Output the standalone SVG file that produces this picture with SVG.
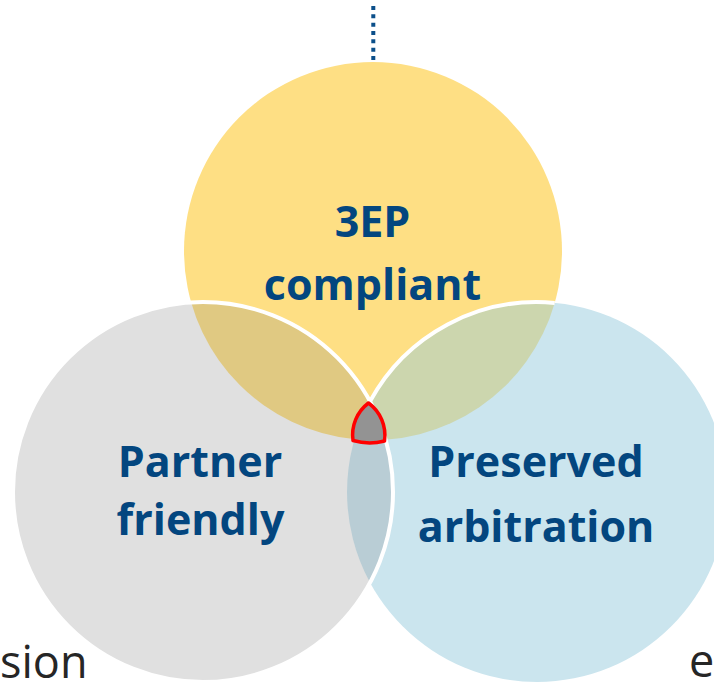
<svg xmlns="http://www.w3.org/2000/svg" width="714" height="685" viewBox="0 0 714 685">
<style>
.lbl{font-family:"Open Sans","Liberation Sans",sans-serif;font-weight:700;font-size:43px;fill:#03467F;text-anchor:middle}
.side{font-family:"Open Sans","Liberation Sans",sans-serif;font-size:45px;fill:#262626}
.edge{fill:none;stroke:#FFFFFF;stroke-width:4}
</style>
<rect width="714" height="685" fill="#FFFFFF"/>
<g id="connectors">
<line x1="373.3" y1="6" x2="373.3" y2="62" stroke="#0B4F8A" stroke-width="4" stroke-dasharray="4 4.33"/>
</g>
<g id="yellow">
<circle cx="373" cy="251" r="189" fill="#FEDF84"/>
</g>
<g id="blue">
<circle cx="537" cy="492" r="190" fill="#CBE5EE"/>
</g>
<g id="gray">
<circle cx="203" cy="492" r="190" fill="#E0E0E0"/>
</g>
<g id="overlaps">
<path d="M191.2,302.4 A190 190 0 0 1 385.6,439.6 A189 189 0 0 1 191.2,302.4 Z" fill="#E0C982"/>
<path d="M554.7,302.9 A190 190 0 0 0 354.5,439.1 A189 189 0 0 0 554.7,302.9 Z" fill="#CCD6AE"/>
<path d="M370,401.4 A190 190 0 0 1 370,582.6 A190 190 0 0 1 370,401.4 Z" fill="#B9CDD5"/>
<circle class="edge" cx="203" cy="492" r="190"/>
<path class="edge" d="M554.7,302.9 A190 190 0 0 0 370,401.4"/>
</g>
<g id="center">
<path d="M368.5,403 A40 40 0 0 0 353,440.5 A60 60 0 0 0 384.5,441 A40 40 0 0 0 368.5,403 Z" fill="#939393" stroke="#FF0000" stroke-width="3.5" stroke-linejoin="round"/>
</g>
<g id="labels">
<text class="lbl" x="372.5" y="236.7">3EP</text>
<text class="lbl" x="372.5" y="300">compliant</text>
<text class="lbl" x="200" y="476.7">Partner</text>
<text class="lbl" x="200.5" y="535">friendly</text>
<text class="lbl" x="536" y="477.3">Preserved</text>
<text class="lbl" x="536" y="541.5">arbitration</text>
<text class="side" x="0" y="678">sion</text>
<text class="side" x="689" y="677">e</text>
</g>
</svg>
